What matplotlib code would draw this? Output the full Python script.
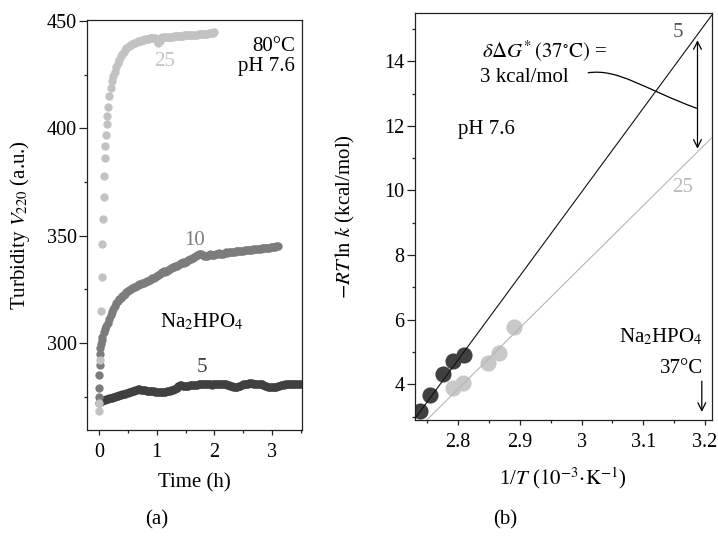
import numpy as np
import matplotlib
matplotlib.use("Agg")
import matplotlib.pyplot as plt
from matplotlib.path import Path
from matplotlib.patches import PathPatch
from matplotlib.ticker import MultipleLocator

plt.rcParams['font.family'] = ['Liberation Serif', 'DejaVu Serif']
plt.rcParams['mathtext.fontset'] = 'stix'
plt.rcParams['font.size'] = 15

# ---- panel (a): turbidity vs time ----
# early, sparse readings (h, a.u.)
t25_early = [0.0, 0.003, 0.017, 0.035, 0.047, 0.057, 0.075, 0.082, 0.092,
             0.10, 0.11, 0.12, 0.133, 0.144, 0.155]
v25_early = [268.5, 272, 292, 315, 331, 346, 358, 368, 378,
             386, 392, 397, 402, 406, 410]
# later readings, every 0.025 h from 0.175 h
t25_start, dt = 0.175, 0.025
v25_late = [415, 419, 422, 424.5, 426.5, 428.5, 430.5, 432,
            433.5, 434.8, 435.8, 436.7, 437.4, 438, 438.5, 439,
            439.4, 439.7, 440, 440.3, 440.5, 440.7, 440.9, 441.1,
            441.3, 441.5, 441.6, 441.8, 441.9, 442, 442.1, 442.2,
            442.2, 441, 439.8, 440.5, 442.3, 442.4, 442.5, 442.5,
            442.6, 442.7, 442.7, 442.8, 442.8, 442.9, 442.9, 443,
            443, 443, 443.1, 443.2, 443.3, 443.4, 443.4, 443.5,
            443.5, 443.4, 443.5, 443.6, 443.6, 443.7, 443.8, 443.8,
            443.9, 444, 444, 444.1, 444.2, 444.3, 444.4, 444.5, 444.6, 444.8]

t10_early = [0.0, 0.003, 0.006, 0.01, 0.015, 0.02, 0.03, 0.045, 0.06, 0.08]
v10_early = [275, 279, 285, 290, 295, 297.5, 299.5, 301.5, 303, 305]
t10_start = 0.1
v10_late = [306.5, 308, 309.5, 311, 313, 314.5, 316, 317.3, 318.5,
            319.5, 320.3, 321, 321.7, 322.4, 323, 323.6, 324.2,
            324.7, 325.1, 325.5, 325.9, 326.3, 326.7, 327.0, 327.3, 327.6, 327.9,
            328.2, 328.5, 328.7, 329.0, 329.3, 329.7, 330.1, 330.5, 331.0, 331.4,
            331.8, 332.2, 332.6, 333.0, 333.4, 333.3, 333.6, 334.0, 334.4, 334.8,
            335.2, 335.6, 336.0, 335.8, 336.3, 336.8, 337.2, 337.6, 337.4, 337.9,
            338.3, 338.7, 339.2, 339.0, 339.5, 340.0, 340.5, 341.0, 341.4, 341.6,
            341.3, 340.9, 340.6, 340.4, 340.6, 341.0, 341.3, 341.1, 340.9, 341.1,
            341.4, 341.7, 341.9, 341.6, 341.4, 341.7, 342.0, 342.2, 342.1, 342.3,
            342.4, 342.5, 342.6, 342.5, 342.7, 342.9, 343.0, 342.9, 343.0, 343.1,
            343.2, 343.2, 343.3, 343.3, 343.4, 343.5, 343.6, 343.7, 343.8, 343.9,
            344.0, 344.0, 344.1, 344.2, 344.3, 344.4, 344.5, 344.5, 344.6, 344.7,
            344.8, 344.9, 345.0, 345.1]

t5_start = 0.0
v5 = [272, 272.5, 273, 273.3, 273.6,
      273.8, 274, 274.2, 274.4, 274.6, 274.9, 275.1, 275.3, 275.5, 275.7, 275.9,
      276.1, 276.3, 276.5, 276.7, 276.9,
      277.1, 277.3, 277.5, 277.7, 278.0, 278.3, 278.4, 278.4, 278.3, 278.2,
      278.1, 278.0, 277.9, 277.8, 277.8, 277.7, 277.6, 277.5, 277.4, 277.3,
      277.2, 277.1, 277.0, 277.0,
      277.1, 277.3, 277.5, 277.7, 277.9, 278.1, 278.3, 278.5, 278.8, 279.2,
      279.8, 280.3, 280.4, 280.2,
      280.1, 280.0, 280.1, 280.2, 280.3, 280.4, 280.5, 280.5, 280.6, 280.6,
      280.7, 280.7, 280.8, 280.8, 280.8, 280.8, 280.8, 280.7, 280.7, 280.6,
      280.7, 280.8, 280.9, 281.0, 281.0, 281.0, 280.9, 280.9, 280.8, 280.7,
      280.5, 280.3, 280.1, 279.9, 279.7, 279.6, 279.6, 279.7, 279.9, 280.2,
      280.5, 280.8, 281.0, 281.1, 281.1, 281.2,
      281.2, 281.2, 281.1, 281.0, 281.0, 281.1, 281.1, 281.0, 280.8, 280.5,
      280.2, 279.9, 279.7, 279.5, 279.4, 279.4, 279.4, 279.5, 279.7, 280.0,
      280.2, 280.4, 280.5,
      280.6, 280.7, 280.8, 280.8, 280.9, 280.9, 281.0, 281.0, 281.0, 281.0,
      281.0, 281.0, 281.0]

t25 = np.concatenate([t25_early, t25_start + dt * np.arange(len(v25_late))])
v25 = np.concatenate([v25_early, v25_late])
t10 = np.concatenate([t10_early, t10_start + dt * np.arange(len(v10_late))])
v10 = np.concatenate([v10_early, v10_late])
t5 = t5_start + dt * np.arange(len(v5))

# ---- panel (b) ----
inv_T5 = [2.738, 2.755, 2.776, 2.792, 2.809]
g5 = [3.19, 3.67, 4.32, 4.73, 4.92]
inv_T25 = [2.792, 2.808, 2.849, 2.866, 2.890]
g25 = [3.88, 4.06, 4.67, 4.98, 5.78]
# fitted lines (end points)
fit5_x = [2.730, 3.211]
fit5_y = [2.95, 15.42]
fit25_x = [2.749, 3.211]
fit25_y = [2.90, 11.63]

c_light = '#c2c2c2'
c_mid = '#7c7c7c'
c_dark = '#404040'

fig = plt.figure(figsize=(7.18, 5.4), dpi=100, facecolor='white')
ax1 = fig.add_axes([0.1212, 0.2037, 0.2994, 0.7593])
ax2 = fig.add_axes([0.578, 0.2222, 0.4132, 0.7543])

for ax in (ax1, ax2):
    for sp in ax.spines.values():
        sp.set_linewidth(0.9)
        sp.set_color('#222222')
    ax.tick_params(axis='y', which='major', direction='out', length=5.5, width=0.9,
                   color='#222222', pad=2, labelsize=14.5)
    ax.tick_params(axis='y', which='minor', direction='out', length=2.5, width=0.9,
                   color='#222222')
    ax.tick_params(axis='x', which='major', direction='out', length=3.6, width=0.9,
                   color='#222222', pad=6, labelsize=14.5)
    ax.tick_params(axis='x', which='minor', direction='out', length=2, width=0.9,
                   color='#222222')

# panel (a)
ax1.scatter(t5, v5, s=36, color=c_dark, linewidths=0, zorder=2)
ax1.scatter(t10, v10, s=36, color=c_mid, linewidths=0, zorder=3)
ax1.scatter(t25, v25, s=36, color=c_light, linewidths=0, zorder=4)
ax1.set_xlim(-0.208, 3.518)
ax1.set_ylim(259.5, 450.5)
ax1.xaxis.set_major_locator(MultipleLocator(1))
ax1.xaxis.set_minor_locator(MultipleLocator(0.5))
ax1.yaxis.set_major_locator(MultipleLocator(50))
ax1.yaxis.set_minor_locator(MultipleLocator(25))
ax1.set_xlabel('Time (h)')
ax1.set_ylabel(r'Turbidity $V_{220}$ (a.u.)')
ax1.xaxis.set_label_coords(0.5, -0.105)
ax1.yaxis.set_label_coords(-0.256, 0.5)

ax1.text(3.40, 438, '80°C', ha='right', va='center')
ax1.text(3.40, 428.6, 'pH 7.6', ha='right', va='center')
ax1.text(1.13, 431, '25', ha='center', va='center', color=c_light)
ax1.text(1.66, 348, '10', ha='center', va='center', color=c_mid)
ax1.text(1.785, 309.8, r'Na$_2$HPO$_4$', ha='center', va='center')
ax1.text(1.785, 288.8, '5', ha='center', va='center', color=c_dark)

# panel (b)
ax2.scatter(inv_T5, g5, s=135, color=c_dark, linewidths=0, zorder=2)
ax2.scatter(inv_T25, g25, s=135, color='#c8c8c8', linewidths=0, zorder=2)
ax2.plot(fit5_x, fit5_y, color='#111111', lw=0.8, zorder=3)
ax2.plot(fit25_x, fit25_y, color='#b5b5b5', lw=0.8, zorder=3)
ax2.set_xlim(2.73, 3.211)
ax2.set_ylim(2.9, 15.5)
ax2.xaxis.set_minor_locator(MultipleLocator(0.05))
ax2.yaxis.set_minor_locator(MultipleLocator(1))
ax2.set_xticks([2.8, 2.9, 3.0, 3.1, 3.2])
ax2.set_xticklabels(['2.8', '2.9', '3', '3.1', '3.2'])
ax2.set_yticks([4, 6, 8, 10, 12, 14])
ax2.set_xlabel(r'1/$T$ ($10^{-3}\!\cdot\!\mathrm{K}^{-1}$)')
ax2.set_ylabel(r'$-RT\,\ln\,k$ (kcal/mol)')
ax2.xaxis.set_label_coords(0.5, -0.11)
ax2.yaxis.set_label_coords(-0.195, 0.5)

ax2.text(2.838, 14.29, r'$\delta\Delta G^{*}\,(37^{\circ}\mathrm{C})$ =', ha='left', va='center')
ax2.text(2.835, 13.48, '3 kcal/mol', ha='left', va='center')
ax2.text(2.80, 11.88, 'pH 7.6', ha='left', va='center')
ax2.text(3.156, 14.9, '5', ha='center', va='center', color='#555555')
ax2.text(3.163, 10.09, '25', ha='center', va='center', color='#bbbbbb')
ax2.text(3.197, 5.48, r'Na$_2$HPO$_4$', ha='right', va='center')
ax2.text(3.197, 4.49, '37°C', ha='right', va='center')

ax2.annotate('', xy=(3.188, 11.29), xytext=(3.188, 14.65),
             arrowprops=dict(arrowstyle='<->', lw=0.9, color='black',
                             shrinkA=0, shrinkB=0, mutation_scale=14))
ax2.annotate('', xy=(3.195, 3.15), xytext=(3.195, 4.1),
             arrowprops=dict(arrowstyle='->', lw=0.9, color='black',
                             shrinkA=0, shrinkB=0, mutation_scale=14))
curve = Path([(3.010, 13.64), (3.06, 13.78), (3.10, 13.15), (3.187, 12.54)],
             [Path.MOVETO, Path.CURVE4, Path.CURVE4, Path.CURVE4])
ax2.add_patch(PathPatch(curve, facecolor='none', edgecolor='black', lw=0.9))

fig.text(0.2187, 0.037, '(a)', ha='center', va='center')
fig.text(0.703, 0.037, '(b)', ha='center', va='center')

fig.savefig('out.png', dpi=100, facecolor='white')
